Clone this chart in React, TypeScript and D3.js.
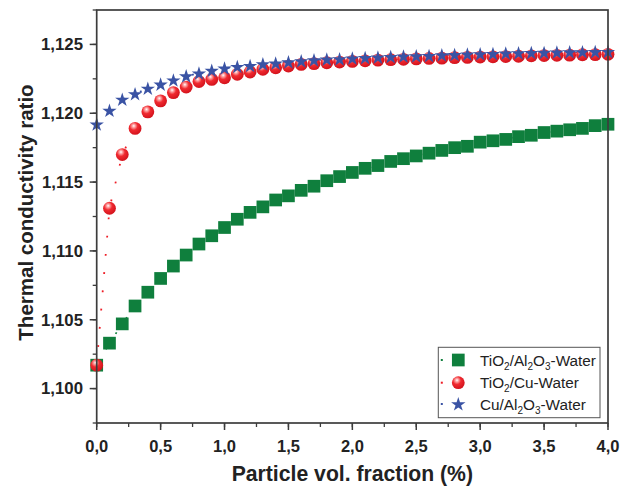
import React from "react";
import * as d3 from "d3";

const xValues = [0,0.1,0.2,0.3,0.4,0.5,0.6,0.7,0.8,0.9,1.0,1.1,1.2,1.3,1.4,1.5,1.6,1.7,1.8,1.9,2.0,2.1,2.2,2.3,2.4,2.5,2.6,2.7,2.8,2.9,3.0,3.1,3.2,3.3,3.4,3.5,3.6,3.7,3.8,3.9,4.0];

const tiAlWater = [1.1017,1.1033,1.1047,1.1060,1.1070,1.1080,1.1089,1.1097,1.1105,1.1111,1.1117,1.1123,1.1128,1.1132,1.1137,1.1140,1.1144,1.1147,1.1151,1.1154,1.1157,1.1160,1.1162,1.1165,1.1167,1.1169,1.1171,1.1173,1.1175,1.1176,1.1179,1.1180,1.1181,1.1183,1.1184,1.1186,1.1187,1.1188,1.1189,1.1191,1.1192];

const tiCuWater = [1.1017,1.1131,1.1170,1.1189,1.1201,1.1209,1.1215,1.1219,1.1223,1.12246,1.12258,1.12283,1.12299,1.12319,1.1233,1.12343,1.12355,1.1236,1.12367,1.12372,1.12377,1.12381,1.12386,1.12389,1.12392,1.12395,1.12398,1.124,1.12404,1.12406,1.12408,1.1241,1.12412,1.12414,1.12417,1.12419,1.12421,1.12422,1.12425,1.12426,1.12428];

const cuAlWater = [1.1192,1.1202,1.1210,1.1214,1.1218,1.1221,1.1224,1.1227,1.1229,1.1231,1.12326,1.12338,1.12345,1.12357,1.12362,1.12372,1.12379,1.12386,1.12391,1.12393,1.12399,1.12403,1.12406,1.1241,1.12413,1.12415,1.12417,1.12422,1.12425,1.12428,1.1243,1.12432,1.12435,1.12437,1.12439,1.1244,1.12442,1.12444,1.12445,1.12446,1.12447];

const xTicks = [0,0.5,1.0,1.5,2.0,2.5,3.0,3.5,4.0];
const yTicks = [1.100,1.105,1.110,1.115,1.120,1.125];

const GREEN = "#0f7f3d";
const RED = "#ee1c25";
const BLUE = "#3a53a4";
const AXIS = "#3c3c3c";

const left = 96.7, right = 608, top = 10, bottom = 423;

export default function App() {
  const x = d3.scaleLinear().domain([0, 4]).range([left, right]);
  const y = d3.scaleLinear().domain([1.0975, 1.1275]).range([bottom, top]);
  const line = d3.line<number>().x((_, i) => x(xValues[i])).y((v) => y(v));
  const fmtY = (v: number) => d3.format(".3f")(v).replace(".", ",");
  const fmtX = (v: number) => d3.format(".1f")(v).replace(".", ",");
  const xMinor = d3.range(0, 4.001, 0.25);
  const yMinor = d3.range(1.0975, 1.1276, 0.0025);
  const star = d3.symbol().type(d3.symbolStar).size(64)();
  const sq = 12.7;
  const cr = 6.4;

  const Square = ({ cx, cy }: { cx: number; cy: number }) => (
    <rect x={cx - sq / 2} y={cy - sq / 2} width={sq} height={sq} fill={GREEN} />
  );
  const Sphere = ({ cx, cy }: { cx: number; cy: number }) => (
    <circle cx={cx} cy={cy} r={cr} fill="url(#sphere)" />
  );
  const Star = ({ cx, cy }: { cx: number; cy: number }) => (
    <path d={star || ""} transform={`translate(${cx},${cy + 0.5})`} fill={BLUE} />
  );

  const dash = "1.8 16.5";
  const legendRows = [
    { y: 360, color: GREEN, kind: "sq" },
    { y: 382.7, color: RED, kind: "ci" },
    { y: 404, color: BLUE, kind: "st" },
  ];

  return (
    <svg width={621} height={491} style={{ position: "absolute", left: 0, top: 0, background: "#fff" }}
      fontFamily="'Liberation Sans', Arial, Helvetica, sans-serif">
      <defs>
        <radialGradient id="sphere" cx="0.38" cy="0.35" r="0.7" fx="0.4" fy="0.3">
          <stop offset="0" stopColor="#ffffff" />
          <stop offset="0.15" stopColor="#ffb0b0" />
          <stop offset="0.45" stopColor="#f02a30" />
          <stop offset="1" stopColor="#d0101a" />
        </radialGradient>
        <clipPath id="plotclip">
          <rect x={left} y={top} width={right - left} height={bottom - top} />
        </clipPath>
      </defs>

      {/* dotted connecting lines */}
      <g clipPath="url(#plotclip)" fill="none" strokeWidth={1.8}>
        <path d={line(tiAlWater) || ""} stroke={GREEN} strokeDasharray={dash} />
        <path d={line(tiCuWater) || ""} stroke={RED} strokeDasharray={dash} />
        <path d={line(cuAlWater) || ""} stroke={BLUE} strokeDasharray={dash} />
      </g>

      {/* markers */}
      <g>
        {tiAlWater.map((v, i) => <Square key={"g" + i} cx={x(xValues[i])} cy={y(v)} />)}
        {tiCuWater.map((v, i) => <Sphere key={"r" + i} cx={x(xValues[i])} cy={y(v)} />)}
        {cuAlWater.map((v, i) => <Star key={"b" + i} cx={x(xValues[i])} cy={y(v)} />)}
      </g>

      {/* frame */}
      <rect x={left} y={top} width={right - left} height={bottom - top} fill="none" stroke={AXIS} strokeWidth={1.7} />

      {/* x ticks */}
      {xMinor.map((t, i) => (
        <line key={"xm" + i} x1={x(t)} x2={x(t)} y1={bottom} y2={bottom + 4} stroke={AXIS} strokeWidth={1.3} />
      ))}
      {xTicks.map((t, i) => (
        <g key={"xt" + i}>
          <line x1={x(t)} x2={x(t)} y1={bottom} y2={bottom + 7} stroke={AXIS} strokeWidth={1.5} />
          <text x={x(t)} y={451.5} textAnchor="middle" fontSize={16.5} fontWeight="bold" fill="#222">{fmtX(t)}</text>
        </g>
      ))}

      {/* y ticks */}
      {yMinor.map((t, i) => (
        <line key={"ym" + i} x1={left - 4} x2={left} y1={y(t)} y2={y(t)} stroke={AXIS} strokeWidth={1.3} />
      ))}
      {yTicks.map((t, i) => (
        <g key={"yt" + i}>
          <line x1={left - 7} x2={left} y1={y(t)} y2={y(t)} stroke={AXIS} strokeWidth={1.5} />
          <text x={83} y={y(t) + 5.8} textAnchor="end" fontSize={16.8} fontWeight="bold" fill="#222">{fmtY(t)}</text>
        </g>
      ))}

      {/* axis titles */}
      <text x={(left + right) / 2} y={481} textAnchor="middle" fontSize={21.2} fontWeight="bold" fill="#222">
        Particle vol. fraction (%)
      </text>
      <text transform={`translate(32.5,${(top + bottom) / 2 - 4}) rotate(-90)`} textAnchor="middle" fontSize={20.5} fontWeight="bold" fill="#222">
        Thermal conductivity ratio
      </text>

      {/* legend */}
      <rect x={438.3} y={347.3} width={161.7} height={70.4} fill="#fff" stroke="#555" strokeWidth={1} />
      {legendRows.map((r, i) => (
        <g key={"lg" + i}>
          <rect x={440.8} y={r.y - 1} width={2} height={2} fill={r.color} />
          {r.kind === "sq" && <Square cx={458.3} cy={r.y} />}
          {r.kind === "ci" && <Sphere cx={458.3} cy={r.y} />}
          {r.kind === "st" && <Star cx={458.3} cy={r.y} />}
        </g>
      ))}
      <g fontSize={15.3} fill="#222">
        <text x={480} y={365.5}>
          TiO<tspan fontSize={10} dy={4}>2</tspan><tspan dy={-4}>/Al</tspan><tspan fontSize={10} dy={4}>2</tspan><tspan dy={-4}>O</tspan><tspan fontSize={10} dy={4}>3</tspan><tspan dy={-4}>-Water</tspan>
        </text>
        <text x={480} y={388.2}>
          TiO<tspan fontSize={10} dy={4}>2</tspan><tspan dy={-4}>/Cu-Water</tspan>
        </text>
        <text x={480} y={409.5}>
          Cu/Al<tspan fontSize={10} dy={4}>2</tspan><tspan dy={-4}>O</tspan><tspan fontSize={10} dy={4}>3</tspan><tspan dy={-4}>-Water</tspan>
        </text>
      </g>
    </svg>
  );
}
